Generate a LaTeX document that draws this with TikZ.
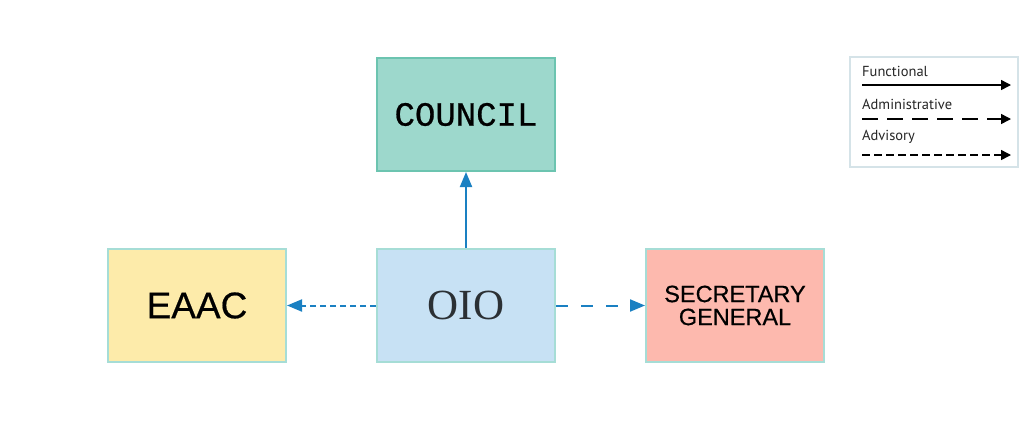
\documentclass[tikz,border=0pt]{standalone}
\usepackage{fontspec}
\setmainfont{Liberation Sans}
\newfontfamily\monof{Liberation Mono}[FakeBold=0.6]
\newfontfamily\sansf{Liberation Sans}[FakeBold=0.5]
\newfontfamily\seriff{Liberation Serif}
\newfontfamily\legf{PT Sans}
\usetikzlibrary{arrows.meta}
\definecolor{councilfill}{HTML}{9DD8CC}
\definecolor{councilline}{HTML}{6CC4B0}
\definecolor{eaacfill}{HTML}{FDEBAA}
\definecolor{oiofill}{HTML}{C7E1F4}
\definecolor{sgfill}{HTML}{FDB9AE}
\definecolor{boxline}{HTML}{A6DDD6}
\definecolor{arrowblue}{HTML}{1A80C2}
\definecolor{txtdark}{HTML}{2B3034}
\definecolor{legline}{HTML}{D5E3E8}
\begin{document}
\begin{tikzpicture}[x=1pt,y=-1pt,
  orgbox/.style={draw=boxline, line width=2pt, minimum width=178pt, minimum height=113pt, inner sep=0pt, anchor=north west, align=center, text=black},
  link/.style={draw=arrowblue, line width=2pt, -{Triangle[length=15pt,width=12pt]}},
  legtxt/.style={anchor=west, inner sep=0pt, font=\legf\fontsize{14.5}{16}\selectfont, text=black!85},
  legarrow/.style={draw=black, line width=1.5pt, -{Triangle[length=10pt,width=10pt]}}
]
\useasboundingbox[fill=white] (0,0) rectangle (1024,437);
% boxes
\node[orgbox, fill=councilfill, draw=councilline, font=\monof\fontsize{34}{36}\selectfont] (council) at (376,57) {COUNCIL};
\node[orgbox, fill=eaacfill, font=\sansf\fontsize{37}{40}\selectfont] (eaac) at (107,248) {EAAC};
\node[orgbox, fill=oiofill, text=txtdark, font=\seriff\fontsize{43}{44}\selectfont] (oio) at (376,248) {OIO};
\node[orgbox, fill=sgfill, font=\sansf\fontsize{23.5}{23}\selectfont] (sg) at (645,248) {SECRETARY\\GENERAL};
% connectors
\draw[link] (oio.north) -- (council.south);
\draw[link, dash pattern=on 6pt off 4pt] (oio.west) -- (eaac.east);
\draw[link, dash pattern=on 12pt off 13pt] (oio.east) -- (sg.west);
% legend
\node[draw=legline, line width=1.5pt, minimum width=168pt, minimum height=110pt, anchor=north west, inner sep=0pt] (legend) at (849,56) {};
\node[legtxt] (lf) at (862,71) {Functional};
\node[legtxt] (la) at (862,104) {Administrative};
\node[legtxt] (lv) at (862,137) {Advisory};
\coordinate (f1) at (862,85); \coordinate (f2) at (1011,85);
\coordinate (a1) at (862,119); \coordinate (a2) at (1011,119);
\coordinate (v1) at (862,155); \coordinate (v2) at (1011,155);
\draw[legarrow] (f1) -- (f2);
\draw[legarrow, dash pattern=on 16pt off 9pt] (a1) -- (a2);
\draw[legarrow, dash pattern=on 8pt off 4pt] (v1) -- (v2);
\end{tikzpicture}
\end{document}
